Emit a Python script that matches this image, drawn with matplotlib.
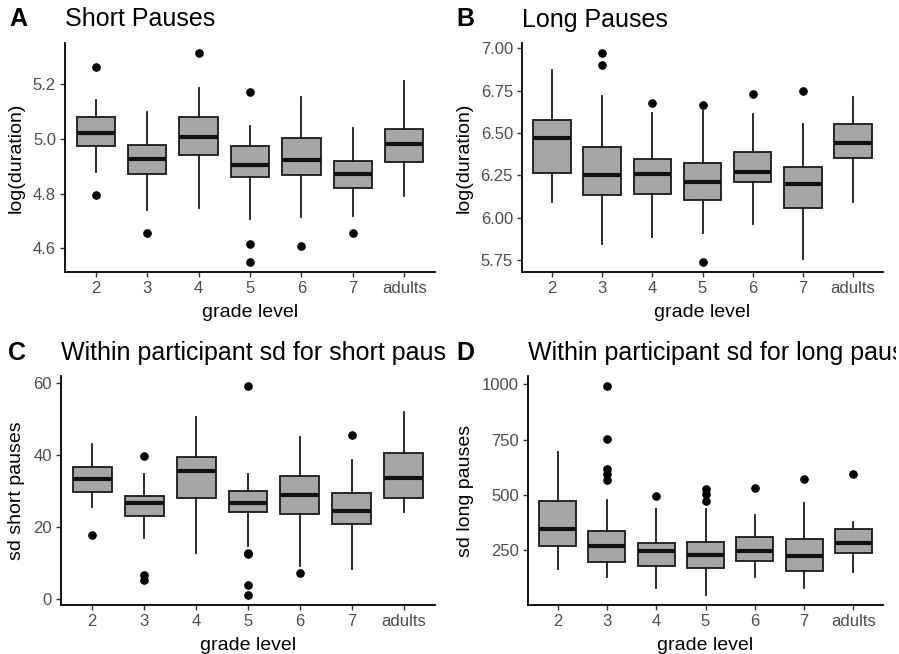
import numpy as np
import matplotlib.pyplot as plt
from matplotlib.transforms import Bbox, TransformedBbox

plt.rcParams['font.family'] = ['Liberation Sans', 'DejaVu Sans']

grades = ["2", "3", "4", "5", "6", "7", "adults"]

# A: short pauses, log(duration)
a_lo = [4.879, 4.742, 4.749, 4.707, 4.714, 4.718, 4.790]
a_q1 = [4.976, 4.873, 4.942, 4.863, 4.867, 4.821, 4.916]
a_med = [5.021, 4.926, 5.008, 4.904, 4.925, 4.873, 4.982]
a_q3 = [5.081, 4.979, 5.081, 4.975, 5.004, 4.921, 5.036]
a_hi = [5.143, 5.097, 5.185, 5.048, 5.155, 5.041, 5.212]
a_out = [[5.265, 4.796], [4.657], [5.313], [5.173, 4.616, 4.552], [4.608], [4.655], []]

# B: long pauses, log(duration)
b_lo = [6.093, 5.844, 5.888, 5.909, 5.963, 5.756, 6.093]
b_q1 = [6.264, 6.134, 6.142, 6.102, 6.213, 6.057, 6.352]
b_med = [6.470, 6.254, 6.256, 6.211, 6.270, 6.197, 6.441]
b_q3 = [6.579, 6.419, 6.346, 6.323, 6.388, 6.301, 6.553]
b_hi = [6.874, 6.717, 6.616, 6.632, 6.612, 6.553, 6.715]
b_out = [[], [6.970, 6.902], [6.677], [6.665, 5.740], [6.730], [6.750], []]

# C: within participant sd, short pauses
c_lo = [25.6, 17.0, 12.8, 14.8, 9.1, 8.4, 24.0]
c_q1 = [29.6, 22.9, 28.1, 24.0, 23.6, 20.8, 28.0]
c_med = [33.2, 26.6, 35.4, 26.7, 28.8, 24.4, 33.6]
c_q3 = [36.5, 28.6, 39.4, 30.0, 34.1, 29.4, 40.6]
c_hi = [42.9, 34.8, 50.6, 34.8, 45.0, 38.5, 51.9]
c_out = [[17.7], [39.8, 6.7, 5.2], [], [59.0, 12.7, 12.4, 4.0, 1.2], [7.3], [45.4], []]

# D: within participant sd, long pauses
d_lo = [164.7, 128.7, 82.3, 50.9, 131.7, 80.8, 154.2]
d_q1 = [269.5, 199.0, 179.6, 169.0, 202.0, 158.7, 238.0]
d_med = [347.0, 268.0, 245.5, 229.0, 245.5, 223.0, 283.0]
d_q3 = [473.0, 338.0, 284.4, 290.0, 310.0, 299.4, 345.8]
d_hi = [694.6, 477.5, 435.6, 438.6, 411.7, 465.6, 378.7]
d_out = [[], [989.5, 751.0, 615.0, 593.0, 567.0], [497.0], [525.0, 503.0, 473.0],
         [533.0], [572.0], [594.0]]

W, H = 899, 654
fig = plt.figure(figsize=(W / 100, H / 100), dpi=100)


def px_axes(left, top, right, bottom):
    return fig.add_axes([left / W, 1 - bottom / H, (right - left) / W, (bottom - top) / H])


def panel(ax, lo, q1, med, q3, hi, out, ylabel, yticks, yticklabels):
    stats = []
    for i in range(len(grades)):
        stats.append(dict(whislo=lo[i], q1=q1[i], med=med[i], q3=q3[i],
                          whishi=hi[i], fliers=out[i]))
    ax.bxp(stats, positions=np.arange(1, len(grades) + 1), widths=0.75,
           patch_artist=True, showcaps=False,
           boxprops=dict(facecolor='#A6A6A6', edgecolor='#1A1A1A', linewidth=1.3),
           medianprops=dict(color='#111111', linewidth=3.0, solid_capstyle='butt'),
           whiskerprops=dict(color='#1A1A1A', linewidth=1.3),
           flierprops=dict(marker='o', markerfacecolor='black', markeredgecolor='black',
                           markersize=5.2))
    allv = lo + hi + [v for o in out for v in o]
    vmin, vmax = min(allv), max(allv)
    pad = (vmax - vmin) * 0.05
    ax.set_ylim(vmin - pad, vmax + pad)
    ax.set_xlim(0.4, len(grades) + 0.6)
    ax.set_xticks(np.arange(1, len(grades) + 1))
    ax.set_xticklabels(grades)
    ax.set_yticks(yticks)
    ax.set_yticklabels(yticklabels)
    for s in ['top', 'right']:
        ax.spines[s].set_visible(False)
    for s in ['left', 'bottom']:
        ax.spines[s].set_linewidth(1.3)
        ax.spines[s].set_color('black')
    ax.tick_params(axis='both', colors='#333333', labelcolor='#4D4D4D', labelsize=12,
                   length=3.5, width=1.0, pad=3)
    ax.set_xlabel("grade level", fontsize=14, color='black', labelpad=6)
    ax.set_ylabel(ylabel, fontsize=14, color='black', labelpad=6)


def title(letter, text, x_letter, x_text, y, clip_right):
    fig.text(x_letter / W, 1 - y / H, letter, fontsize=18, fontweight='bold',
             va='baseline', ha='left')
    # long titles run past the panel edge and get cut there
    t = fig.text(x_text / W, 1 - y / H, text, fontsize=18, va='baseline', ha='left')
    t.set_clip_on(True)
    t.set_clip_box(TransformedBbox(Bbox([[0, 0], [clip_right / W, 1]]), fig.transFigure))


axA = px_axes(65, 43, 435, 272)
panel(axA, a_lo, a_q1, a_med, a_q3, a_hi, a_out, "log(duration)",
      [4.6, 4.8, 5.0, 5.2], ["4.6", "4.8", "5.0", "5.2"])
title("A", "Short Pauses", 9, 65, 26.5, 446)

axB = px_axes(522, 43, 883, 272)
panel(axB, b_lo, b_q1, b_med, b_q3, b_hi, b_out, "log(duration)",
      [5.75, 6.0, 6.25, 6.5, 6.75, 7.0], ["5.75", "6.00", "6.25", "6.50", "6.75", "7.00"])
title("B", "Long Pauses", 456, 522, 26.5, 896)

axC = px_axes(61, 376, 435, 605)
panel(axC, c_lo, c_q1, c_med, c_q3, c_hi, c_out, "sd short pauses",
      [0, 20, 40, 60], ["0", "20", "40", "60"])
title("C", "Within participant sd for short pauses", 8, 61, 360, 446)

axD = px_axes(528, 376, 883, 605)
panel(axD, d_lo, d_q1, d_med, d_q3, d_hi, d_out, "sd long pauses",
      [250, 500, 750, 1000], ["250", "500", "750", "1000"])
title("D", "Within participant sd for long pauses", 456, 528, 360, 896)

fig.savefig("out.png", dpi=100)
